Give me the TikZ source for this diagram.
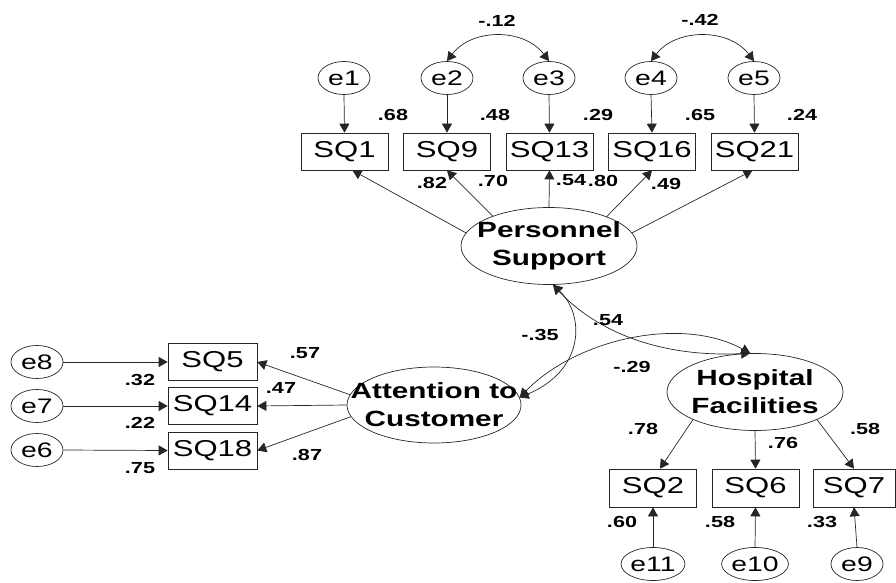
\documentclass[tikz,border=0pt]{standalone}
\usepackage{fontspec}
\setmainfont{Liberation Sans}
\newfontfamily\lblfont[FakeStretch=1.35]{Liberation Sans}
\usetikzlibrary{arrows.meta,shapes.geometric}

\begin{document}
\begin{tikzpicture}[x=1pt,y=1pt,
  line width=0.7pt,
  tip/.tip={Triangle[length=9pt,width=10pt]},
  obs/.style={draw=black!85, rectangle, minimum width=87pt, minimum height=37pt, inner sep=0pt,
    font=\lblfont\fontsize{23}{23}\selectfont},
  err/.style={draw=black!85, ellipse, minimum width=52pt, minimum height=33pt, inner sep=0pt,
    font=\lblfont\fontsize{21}{21}\selectfont},
  latshape/.style={draw=black!85, ellipse, minimum width=176pt, minimum height=77pt, inner sep=0pt},
  lattext/.style={align=center, inner sep=0pt, font=\lblfont\fontsize{22}{28}\selectfont\bfseries},
  coef/.style={font=\lblfont\fontsize{16}{16}\selectfont\bfseries},
  load/.style={-tip, draw=black!85},
  cov/.style={tip-tip, draw=black!85}]
\useasboundingbox (0,0) rectangle (896,-583);

% ---- Personnel Support block ----
\node[err] (e1) at (344,-78) {e1};
\node[err] (e2) at (447,-78) {e2};
\node[err] (e3) at (549,-78) {e3};
\node[err] (e4) at (651,-78) {e4};
\node[err] (e5) at (754,-78) {e5};

\node[obs] (SQ1)  at (344.5,-151.5) {SQ1};
\node[obs] (SQ9)  at (447,-151.5) {SQ9};
\node[obs] (SQ13) at (549.5,-151.5) {SQ13};
\node[obs] (SQ16) at (652,-151.5) {SQ16};
\node[obs] (SQ21) at (754.5,-151.5) {SQ21};

\node[latshape] (PS) at (549,-246) {};
\node[lattext] (PSt) at (PS) {Personnel\\Support};

\foreach \e/\s in {e1/SQ1,e2/SQ9,e3/SQ13,e4/SQ16,e5/SQ21}
  \draw[load] (\e.south) -- (\s.north);

\draw[cov] (e2.north) .. controls (472,-28) and (524,-28) .. (e3.north);
\draw[cov] (e4.north) .. controls (676,-28) and (729,-28) .. (e5.north);

\draw[load] (PS.171) -- ([xshift=8pt]SQ1.south);
\draw[load] (PS.152) -- (SQ9.south);
\draw[load] (PS.north) -- (SQ13.south);
\draw[load] (PS.27) -- (SQ16.south);
\draw[load] (PS.9) -- ([xshift=-2pt]SQ21.south);

% ---- Attention to Customer block ----
\node[err] (e8) at (37,-362) {e8};
\node[err] (e7) at (37,-406) {e7};
\node[err] (e6) at (37,-450) {e6};

\node[obs, minimum width=89pt] (SQ5)  at (212.5,-362) {SQ5};
\node[obs, minimum width=89pt] (SQ14) at (212.5,-406) {SQ14};
\node[obs, minimum width=89pt] (SQ18) at (212.5,-450.5) {SQ18};

\node[latshape, minimum width=174pt, minimum height=76pt] (AC) at (434,-405) {};
\node[lattext] (ACt) at (AC) {Attention to\\Customer};

\draw[load] (e8.east) -- (SQ5.west);
\draw[load] (e7.east) -- (SQ14.west);
\draw[load] (e6.east) -- (SQ18.west);

\draw[load] (AC.173) -- (SQ5.east);
\draw[load] (AC.west) -- (SQ14.east);
\draw[load] (AC.188) -- (SQ18.east);

% ---- Hospital Facilities block ----
\node[latshape] (HF) at (755,-392) {};
\node[lattext] (HFt) at (HF) {Hospital\\Facilities};

\node[obs, minimum height=38pt] (SQ2) at (653,-488) {SQ2};
\node[obs, minimum height=38pt] (SQ6) at (755.5,-488) {SQ6};
\node[obs, minimum height=38pt, minimum width=82pt] (SQ7) at (854,-488) {SQ7};

\node[err] (e11) at (653,-564) {e11};
\node[err] (e10) at (755,-564) {e10};
\node[err] (e9)  at (857,-564) {e9};

\draw[load] (HF.204) -- ([xshift=7pt]SQ2.north);
\draw[load] (HF.south) -- (SQ6.north);
\draw[load] (HF.-24) -- (SQ7.north);

\draw[load] (e11.north) -- (SQ2.south);
\draw[load] (e10.north) -- (SQ6.south);
\draw[load] (e9.north) -- (SQ7.south);

% ---- factor covariances ----
\draw[cov] (PS.-84) .. controls (590,-325) and (650,-358) .. (HF.97);
\draw[cov] (PS.-84) .. controls (585,-315) and (585,-370) .. (AC.5);
\draw[cov] (AC.5) .. controls (575,-340) and (680,-315) .. (HF.97);

% ---- estimates ----
\node[coef] (c1) at (393,-115) {.68};
\node[coef] (c2) at (495,-115) {.48};
\node[coef] (c3) at (598,-115) {.29};
\node[coef] (c4) at (700,-115) {.65};
\node[coef] (c5) at (802,-115) {.24};
\node[coef] (c6) at (497,-21) {-.12};
\node[coef] (c7) at (700,-20) {-.42};
\node[coef] (c8) at (432,-183) {.82};
\node[coef] (c9) at (493,-181) {.70};
\node[coef] (c10) at (571,-180) {.54};
\node[coef] (c11) at (603,-181) {.80};
\node[coef] (c12) at (666,-184) {.49};

\node[coef] (c13) at (140,-380) {.32};
\node[coef] (c14) at (140,-423) {.22};
\node[coef] (c15) at (140,-468) {.75};
\node[coef] (c16) at (305,-353) {.57};
\node[coef] (c17) at (281,-388) {.47};
\node[coef] (c18) at (307,-455) {.87};

\node[coef] (c19) at (608,-320) {.54};
\node[coef] (c20) at (540,-335) {-.35};
\node[coef] (c21) at (632,-367) {-.29};

\node[coef] (c22) at (643,-429) {.78};
\node[coef] (c23) at (783,-443) {.76};
\node[coef] (c24) at (865,-429) {.58};
\node[coef] (c25) at (622,-522) {.60};
\node[coef] (c26) at (720,-522) {.58};
\node[coef] (c27) at (822,-522) {.33};
\end{tikzpicture}
\end{document}
